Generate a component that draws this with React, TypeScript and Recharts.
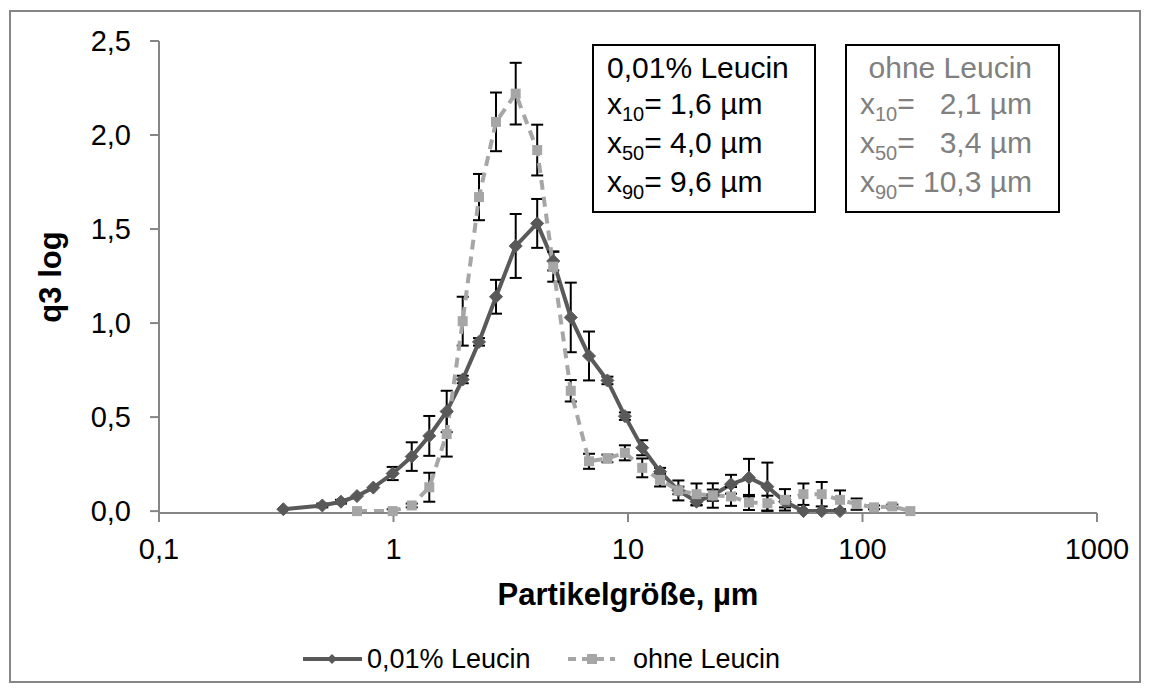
import { LineChart, Line, XAxis, YAxis, ErrorBar, Legend, Label } from 'recharts'

const leucinX = [0.339, 0.497, 0.597, 0.699, 0.82, 0.992, 1.196, 1.421, 1.686, 1.973, 2.315, 2.736, 3.32, 4.1, 4.8, 5.7, 6.82, 8.17, 9.7, 11.5, 13.7, 16.4, 19.6, 23, 27.5, 32.8, 39.3, 46.7, 56, 67, 80.2]
const leucinY = [0.01, 0.03, 0.05, 0.08, 0.125, 0.2, 0.29, 0.4, 0.53, 0.7, 0.9, 1.14, 1.41, 1.53, 1.33, 1.03, 0.825, 0.695, 0.505, 0.337, 0.21, 0.11, 0.05, 0.085, 0.143, 0.178, 0.13, 0.05, 0, 0, 0]
const leucinErr = [0, 0.01, 0.01, 0, 0, 0.035, 0.076, 0.106, 0.11, 0.02, 0.02, 0.09, 0.17, 0.13, 0.05, 0.185, 0.13, 0.02, 0.02, 0.04, 0.02, 0.02, 0.02, 0.03, 0.05, 0.1, 0.128, 0.03, 0, 0, 0]

const ohneX = [0.699, 0.992, 1.196, 1.421, 1.686, 1.973, 2.315, 2.736, 3.32, 4.1, 4.8, 5.7, 6.82, 8.17, 9.7, 11.5, 13.7, 16.4, 19.6, 23, 27.5, 32.8, 39.3, 46.7, 56, 67, 80.2, 94.4, 112, 134, 160]
const ohneY = [0, 0, 0.03, 0.127, 0.41, 1.01, 1.67, 2.07, 2.22, 1.92, 1.3, 0.64, 0.265, 0.28, 0.31, 0.23, 0.166, 0.11, 0.09, 0.083, 0.078, 0.046, 0.042, 0.06, 0.09, 0.09, 0.06, 0.037, 0.02, 0.025, 0]
const ohneErr = [0, 0.01, 0.01, 0.077, 0.12, 0.13, 0.123, 0.156, 0.164, 0.135, 0.08, 0.057, 0.04, 0.02, 0.04, 0.05, 0.035, 0.053, 0.057, 0.065, 0.05, 0.04, 0.04, 0.057, 0.057, 0.065, 0.05, 0.03, 0.01, 0.01, 0]

const xTicks = [0.1, 1, 10, 100, 1000]
const yTicks = [0, 0.5, 1, 1.5, 2, 2.5]

const leucinData = leucinX.map((x, i) => ({ x, y: leucinY[i], err: leucinErr[i] }))
const ohneData = ohneX.map((x, i) => ({ x, y: ohneY[i], err: ohneErr[i] }))

const DARK = '#595959'
const LIGHT = '#a6a6a6'
const AXIS = '#868686'
const FONT = '"Liberation Sans", Arial, sans-serif'

const Diamond = (props: any) => {
  const { cx, cy } = props
  if (cx == null || cy == null) return null
  return <polygon points={`${cx},${cy - 6.5} ${cx + 6.5},${cy} ${cx},${cy + 6.5} ${cx - 6.5},${cy}`} fill={DARK} stroke={DARK} />
}

const Square = (props: any) => {
  const { cx, cy } = props
  if (cx == null || cy == null) return null
  return <rect x={cx - 5} y={cy - 5} width={10} height={10} fill={LIGHT} />
}

const renderLegend = () => (
  <svg width={500} height={40} style={{ fontFamily: FONT }}>
    <line x1={3} y1={20} x2={62} y2={20} stroke={DARK} strokeWidth={4} />
    <polygon points="32,15 37,20 32,25 27,20" fill={DARK} />
    <text x={67} y={20} dominantBaseline="central" fontSize={27} fill="#000">0,01% Leucin</text>
    <line x1={268} y1={20} x2={315} y2={20} stroke={LIGHT} strokeWidth={4} strokeDasharray="8 6" />
    <rect x={287} y={15} width={10} height={10} fill={LIGHT} />
    <text x={333} y={20} dominantBaseline="central" fontSize={27} fill="#000">ohne Leucin</text>
  </svg>
)

const fmt = (v: number) => String(v).replace('.', ',')
const sub = { fontSize: 20, position: 'relative' as const, top: 7 }

export default function App() {
  return (
    <div style={{ position: 'absolute', left: 0, top: 0, width: 1151, height: 693, background: '#fff', fontFamily: FONT }}>
      <div style={{ position: 'absolute', left: 9, top: 10, width: 1132, height: 673, border: `2px solid ${AXIS}`, boxSizing: 'border-box' }} />
      <LineChart width={1151} height={693} margin={{ top: 41, right: 54, bottom: 120, left: 0 }} style={{ position: 'absolute', left: 0, top: 0 }}>
        <XAxis
          dataKey="x"
          type="number"
          scale="log"
          domain={[0.1, 1000]}
          ticks={xTicks}
          allowDataOverflow
          height={60}
          tickFormatter={fmt}
          tickSize={9}
          tickMargin={16}
          axisLine={{ stroke: AXIS, strokeWidth: 2 }}
          tickLine={{ stroke: AXIS, strokeWidth: 2 }}
          tick={{ fill: '#000', fontSize: 29, fontFamily: FONT }}
        >
          <Label
            content={() => (
              <text x={628} y={605} textAnchor="middle" fontSize={31} fontWeight="bold" fontFamily={FONT} fill="#000">Partikelgröße, µm</text>
            )}
          />
        </XAxis>
        <YAxis
          type="number"
          domain={[0, 2.5]}
          ticks={yTicks}
          width={159}
          tickFormatter={(v: number) => v.toFixed(1).replace('.', ',')}
          tickSize={9}
          tickMargin={19}
          axisLine={{ stroke: AXIS, strokeWidth: 2 }}
          tickLine={{ stroke: AXIS, strokeWidth: 2 }}
          tick={{ fill: '#000', fontSize: 29, fontFamily: FONT }}
        >
          <Label
            content={() => (
              <text x={50} y={277} transform="rotate(-90 50 277)" textAnchor="middle" dominantBaseline="central" fontSize={31} fontWeight="bold" fontFamily={FONT} fill="#000">q3 log</text>
            )}
          />
        </YAxis>
        <Line data={leucinData} dataKey="y" name="0,01% Leucin" stroke={DARK} strokeWidth={4} dot={<Diamond />} activeDot={false} isAnimationActive={false}>
          <ErrorBar dataKey="err" direction="y" width={6} stroke="#000" strokeWidth={2} isAnimationActive={false} />
        </Line>
        <Line data={ohneData} dataKey="y" name="ohne Leucin" stroke={LIGHT} strokeWidth={4} strokeDasharray="10 7" dot={<Square />} activeDot={false} isAnimationActive={false}>
          <ErrorBar dataKey="err" direction="y" width={6} stroke="#000" strokeWidth={2} isAnimationActive={false} />
        </Line>
        <Legend layout="vertical" align="center" verticalAlign="middle" content={renderLegend} wrapperStyle={{ top: 639, left: 300, width: 500, height: 40 }} />
      </LineChart>
      <div style={{ position: 'absolute', left: 592, top: 44, width: 224, height: 169, border: '2px solid #000', boxSizing: 'border-box', padding: '4px 0 0 13px', fontSize: 30, lineHeight: '36px', color: '#000' }}>
        <div>0,01% Leucin</div>
        <div>x<span style={sub}>10</span>= 1,6 µm</div>
        <div>x<span style={sub}>50</span>= 4,0 µm</div>
        <div>x<span style={sub}>90</span>= 9,6 µm</div>
      </div>
      <div style={{ position: 'absolute', left: 845, top: 44, width: 215, height: 169, border: '2px solid #000', boxSizing: 'border-box', padding: '4px 26px 0 0', fontSize: 30, lineHeight: '36px', color: '#808080', textAlign: 'right', whiteSpace: 'pre' }}>
        <div>ohne Leucin</div>
        <div>x<span style={sub}>10</span>=   2,1 µm</div>
        <div>x<span style={sub}>50</span>=   3,4 µm</div>
        <div>x<span style={sub}>90</span>= 10,3 µm</div>
      </div>
    </div>
  )
}
